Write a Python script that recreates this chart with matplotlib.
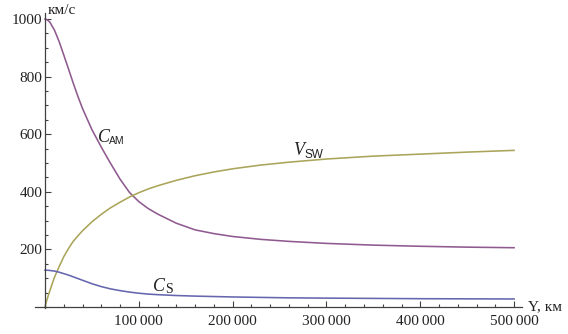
import matplotlib
matplotlib.use("Agg")
import matplotlib.pyplot as plt
from matplotlib.ticker import MultipleLocator, FixedLocator, FuncFormatter

# distance Y, km
y_km = [0, 2000, 5000, 10000, 15000, 20000, 25000, 30000, 35000, 40000, 50000,
        60000, 70000, 80000, 90000, 100000, 110000, 120000, 140000, 160000,
        180000, 200000, 230000, 260000, 300000, 350000, 400000, 450000, 500000]

# speeds, km/s
c_am = [1000, 998, 990, 962, 922, 875, 827, 778, 732, 689, 616,
        555, 498, 444, 398, 366, 342, 323, 291, 268,
        255, 245, 235, 228, 221, 215, 211, 208, 206]
v_sw = [0, 25, 55, 103, 140, 175, 203, 228, 247, 265, 296,
        322, 345, 364, 382, 397, 410, 421, 440, 456,
        469, 480, 493, 503, 514, 524, 531, 538, 544]
c_s = [128, 128, 127, 125, 121, 116, 111, 105, 99, 93, 81,
       71, 63, 57, 52, 48, 45, 43, 40, 38,
       36.5, 35, 33.5, 32, 31, 30, 29, 28.5, 28]

y_ticks = [200, 400, 600, 800, 1000]
x_ticks = [100000, 200000, 300000, 400000, 500000]

fig = plt.figure(figsize=(5.68, 3.34), dpi=100)
ax = fig.add_axes([0.0611, 0.0781, 0.858, 0.883])

lw = 1.15
ax.plot(y_km, c_am, color="#8f5a8f", lw=lw)
ax.plot(y_km, v_sw, color="#aaa55a", lw=lw)
ax.plot(y_km, c_s, color="#6666ae", lw=lw)

ax.set_xlim(-11000, 508500)
ax.set_ylim(-3, 1021)

for side in ("top", "right"):
    ax.spines[side].set_visible(False)
for side in ("left", "bottom"):
    ax.spines[side].set_position(("data", 0))
    ax.spines[side].set_color("#404040")
    ax.spines[side].set_linewidth(0.9)

ax.yaxis.set_major_locator(FixedLocator(y_ticks))
ax.yaxis.set_minor_locator(MultipleLocator(50))
ax.xaxis.set_major_locator(FixedLocator(x_ticks))
ax.xaxis.set_minor_locator(MultipleLocator(20000))
ax.xaxis.set_major_formatter(FuncFormatter(
    lambda v, p: f"{int(v):,}".replace(",", "\u2009")))

ax.tick_params(which="both", direction="in", color="#404040", width=0.8)
ax.tick_params(which="major", length=4)
ax.tick_params(which="minor", length=2.5)
ax.tick_params(axis="y", which="major", pad=2)
ax.tick_params(axis="x", which="major", pad=6)

for lab in ax.get_xticklabels() + ax.get_yticklabels():
    lab.set_fontfamily("Liberation Serif")
    lab.set_fontsize(11)
    lab.set_color("#222222")

ax.text(2500, 1030, "км/с", fontfamily="Liberation Serif", fontsize=11,
        color="#222222", ha="left", va="center", clip_on=False)
ax.text(515000, 0, "Y, км", fontfamily="Liberation Serif", fontsize=11,
        color="#222222", ha="left", va="center", clip_on=False)


def curve_label(x, y, main, sub, sub_family, sub_size, dx, dy):
    """Italic serif symbol with an upright subscript placed after it."""
    t = ax.text(x, y, main, fontfamily="Liberation Serif", fontstyle="italic",
                fontsize=13, color="#222222", ha="left", va="baseline")
    ax.annotate(sub, xy=(1, 0), xycoords=t, xytext=(dx, dy),
                textcoords="offset points", fontfamily=sub_family,
                fontsize=sub_size, color="#222222", ha="left", va="bottom")


curve_label(56500, 574, "C", "AM", "Liberation Sans", 7.5, -0.5, -0.5)
curve_label(264000, 528, "V", "SW", "Liberation Sans", 8.5, 0.5, -1.5)
curve_label(115000, 56, "C", "S", "Liberation Serif", 10, 0.0, -1.0)

fig.savefig("out.png", dpi=100)
